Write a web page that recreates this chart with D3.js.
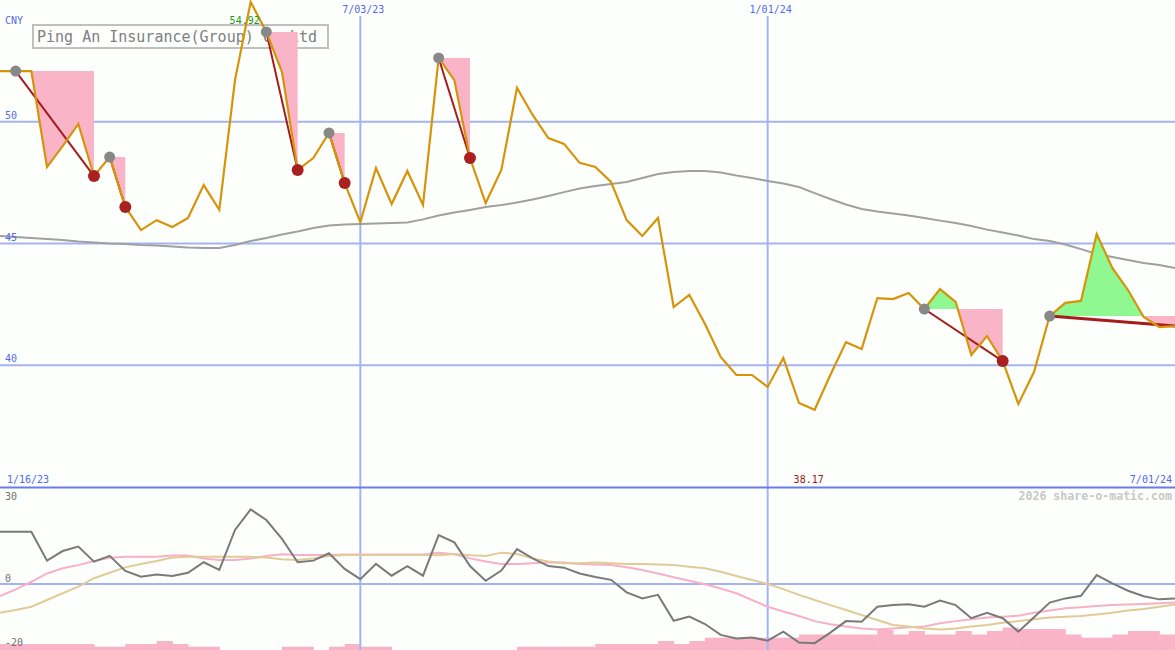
<!DOCTYPE html>
<html><head><meta charset="utf-8">
<script src="https://cdn.jsdelivr.net/npm/d3@7"></script>
<style>html,body{margin:0;padding:0;background:#fcfffc;}svg{display:block;}</style>
</head><body>
<svg id="chart" width="1175" height="650"></svg>
<script>
const title = "Ping An Insurance(Group) Co Ltd";
const currency = "CNY";
const watermark = "2026 share-o-matic.com";

const dates = ["1/16/23","1/30/23","2/06/23","2/13/23","2/20/23","2/27/23","3/06/23","3/13/23","3/20/23","3/27/23",
"4/03/23","4/10/23","4/17/23","4/24/23","5/01/23","5/08/23","5/15/23","5/22/23","5/29/23","6/05/23",
"6/12/23","6/19/23","6/26/23","7/03/23","7/10/23","7/17/23","7/24/23","7/31/23","8/07/23","8/14/23",
"8/21/23","8/28/23","9/04/23","9/11/23","9/18/23","9/25/23","10/02/23","10/09/23","10/16/23","10/23/23",
"10/30/23","11/06/23","11/13/23","11/20/23","11/27/23","12/04/23","12/11/23","12/18/23","12/25/23","1/01/24",
"1/08/24","1/15/24","1/22/24","1/29/24","2/05/24","2/12/24","2/19/24","2/26/24","3/04/24","3/11/24",
"3/18/24","3/25/24","4/01/24","4/08/24","4/15/24","4/22/24","4/29/24","5/06/24","5/13/24","5/20/24",
"5/27/24","6/03/24","6/10/24","6/17/24","6/24/24","7/01/24"];

const price = [52.08,52.08,52.08,48.14,49.00,49.91,47.77,48.55,46.50,45.55,
45.96,45.68,46.05,47.40,46.38,51.71,54.92,53.69,52.04,48.02,
48.51,49.54,47.48,45.88,48.10,46.62,47.98,46.58,52.62,51.71,
48.51,46.66,48.02,51.39,50.28,49.33,49.09,48.31,48.14,47.53,
45.96,45.31,46.05,42.39,42.89,41.69,40.34,39.60,39.60,39.11,
40.30,38.45,38.17,39.60,40.95,40.67,42.76,42.72,42.97,42.31,
43.13,42.60,40.42,41.20,40.17,38.41,39.72,42.02,42.56,42.64,
45.39,44.00,43.09,41.98,41.57,41.61];

const movingAvg = [45.31,45.27,45.23,45.18,45.14,45.08,45.04,45.00,44.98,44.94,
44.92,44.88,44.84,44.82,44.82,44.94,45.10,45.23,45.37,45.49,
45.64,45.74,45.78,45.80,45.82,45.84,45.86,45.99,46.15,46.27,
46.38,46.50,46.58,46.68,46.81,46.95,47.11,47.26,47.36,47.44,
47.53,47.69,47.85,47.94,47.98,47.98,47.92,47.79,47.69,47.57,
47.46,47.32,47.07,46.83,46.60,46.42,46.31,46.23,46.15,46.05,
45.94,45.84,45.72,45.57,45.45,45.33,45.18,45.10,44.96,44.77,
44.57,44.45,44.32,44.20,44.12,43.99];

const oscillator = [16.3,16.3,16.3,7.3,10.3,11.7,7.0,8.8,4.1,2.3,
3.0,2.5,3.5,6.8,4.4,16.9,23.3,20.0,14.1,6.8,
7.3,9.6,4.7,1.5,6.3,2.6,5.6,2.6,15.3,13.0,
5.6,1.0,4.2,10.9,8.0,5.6,5.1,3.3,2.2,1.3,
-2.6,-4.5,-3.4,-11.5,-10.2,-12.5,-15.9,-17.0,-16.7,-17.7,
-14.9,-18.3,-18.5,-15.2,-11.6,-11.8,-7.1,-6.6,-6.3,-7.1,
-5.2,-6.6,-10.7,-9.0,-10.7,-14.9,-10.4,-5.8,-4.5,-3.7,
2.8,0.2,-2.1,-3.8,-4.8,-4.5];

const pinkSignal = [-3.75,-1.7,0.7,3.3,4.9,5.9,7.2,8.2,8.5,8.5,
8.5,8.9,8.9,8.0,7.5,7.5,8.0,8.75,9.3,9.1,
9.1,9.1,9.2,9.2,9.2,9.2,9.2,9.2,9.8,9.3,
8.0,7.0,6.25,6.25,6.5,6.7,6.7,6.25,6.1,5.9,
5.2,4.4,3.3,2.1,1.0,-0.1,-1.4,-2.9,-5.0,-7.1,
-8.6,-10.0,-11.6,-12.6,-13.3,-13.9,-14.2,-13.9,-13.5,-13.3,
-12.3,-11.6,-11.0,-10.5,-10.2,-9.9,-9.0,-8.3,-7.6,-7.3,
-6.9,-6.6,-6.4,-6.25,-6.0,-5.8];

const tanSignal = [-9.0,-8.1,-7.1,-5.0,-2.9,-0.8,1.8,3.5,5.2,6.25,
7.2,8.3,8.5,8.5,8.5,8.5,8.5,8.3,7.7,7.5,
8.0,8.75,9.06,9.06,9.06,9.06,9.06,9.06,9.0,9.4,
9.0,8.75,9.8,9.4,8.0,7.0,6.5,6.5,6.7,6.5,
6.25,6.25,6.1,5.9,5.4,4.9,3.85,2.5,1.25,0,
-1.6,-3.4,-5.0,-6.6,-8.1,-9.7,-11.25,-12.8,-13.3,-13.9,
-14.2,-13.9,-13.3,-12.8,-12.1,-11.6,-11.0,-10.5,-10.2,-10.0,
-9.5,-9.0,-8.3,-7.8,-7.1,-6.4];

const volume = [6,6,6,6,6,6,3.3,3.3,6,6,
9,6,3.3,3.3,0,0,0,0,3.3,3.3,
0,3.3,6,3.3,3.3,0,0,0,0,0,
0,0,0,3.3,3.3,3.3,3.3,3.3,6,6,
6,6,9,6,9,12.3,12.3,12.3,12.3,12.3,
12.3,15.5,15.5,15.5,15.5,15.5,20,15.5,19,15.5,
15.5,19,15.5,19,22.5,21,21,21,15.5,12.3,
12.3,15.5,19,19,15.5,15.5];

const signalStarts = ["1/30/23","3/13/23","5/22/23","6/19/23","8/07/23","3/11/24","5/06/24"];
const signalEnds   = ["3/06/23","3/20/23","6/05/23","6/26/23","8/21/23","4/15/24",null];

const priceTicks = [50,45,40];
const lowerTicks = [30,0,-20];
const lowerGrid = [0];
const dateTicks = ["7/03/23","1/01/24"];

const W = 1175, H = 650;
const svg = d3.select("#chart");
const mono = "'DejaVu Sans Mono', 'Liberation Mono', monospace";

const x = d3.scalePoint().domain(dates).range([0, W]);
const step = x.step();
const yMain = d3.scaleLinear().domain([35, 55]).range([487, 0]);
const yLow = d3.scaleLinear().domain([-20, 30]).range([648, 488]);
const yVol = d3.scaleLinear().domain([0, 25]).range([650, 625]);

svg.append("rect").attr("width", W).attr("height", H).attr("fill", "#fcfffc");

// volume bars
svg.append("g").selectAll("rect").data(dates).join("rect")
  .attr("x", d => x(d)).attr("width", step + 0.5)
  .attr("y", (d, i) => yVol(volume[i]))
  .attr("height", (d, i) => 650 - yVol(volume[i]))
  .attr("fill", "#fab4c8");

// grid
const gridColor = "#a4b4f2";
svg.append("g").selectAll("line").data(priceTicks).join("line")
  .attr("x1", 0).attr("x2", W).attr("y1", d => yMain(d)).attr("y2", d => yMain(d))
  .attr("stroke", gridColor).attr("stroke-width", 2);
svg.append("g").selectAll("line").data(lowerGrid).join("line")
  .attr("x1", 0).attr("x2", W).attr("y1", d => yLow(d)).attr("y2", d => yLow(d))
  .attr("stroke", gridColor).attr("stroke-width", 2);
svg.append("g").selectAll("line").data(dateTicks).join("line")
  .attr("x1", d => x(d)).attr("x2", d => x(d)).attr("y1", 16).attr("y2", H)
  .attr("stroke", gridColor).attr("stroke-width", 2);
svg.append("line").attr("x1", 0).attr("x2", W).attr("y1", 487.5).attr("y2", 487.5)
  .attr("stroke", "#6a7ce6").attr("stroke-width", 2);

// title box
svg.append("rect").attr("x", 33).attr("y", 25).attr("width", 295).attr("height", 23)
  .attr("fill", "none").attr("stroke", "#c0c0c0").attr("stroke-width", 2);
svg.append("text").attr("x", 37).attr("y", 42).text(title)
  .attr("font-family", mono).attr("font-size", 15).attr("fill", "#808080");

// moving average
svg.append("path").datum(movingAvg)
  .attr("d", d3.line().x((d, i) => x(dates[i])).y(d => yMain(d)))
  .attr("fill", "none").attr("stroke", "#a0a0a0").attr("stroke-width", 2);

// signal fills
const defs = svg.append("defs");
const signals = signalStarts.map((s, k) => {
  const si = dates.indexOf(s);
  const ei = signalEnds[k] ? dates.indexOf(signalEnds[k]) : dates.length - 1;
  return {si, ei, open: !signalEnds[k], level: price[si]};
});
signals.forEach((sg, k) => {
  const ly = yMain(sg.level);
  defs.append("clipPath").attr("id", "up" + k).append("rect")
    .attr("x", 0).attr("y", 0).attr("width", W).attr("height", ly);
  defs.append("clipPath").attr("id", "dn" + k).append("rect")
    .attr("x", 0).attr("y", ly).attr("width", W).attr("height", H - ly);
  const idx = d3.range(sg.si, sg.ei + 1);
  const area = d3.area().x(i => x(dates[i])).y0(ly).y1(i => yMain(price[i]));
  svg.append("path").datum(idx).attr("d", area).attr("fill", "#90f890").attr("clip-path", `url(#up${k})`);
  svg.append("path").datum(idx).attr("d", area).attr("fill", "#fab4c8").attr("clip-path", `url(#dn${k})`);
});
// trend lines
signals.forEach(sg => {
  svg.append("line")
    .attr("x1", x(dates[sg.si])).attr("y1", yMain(price[sg.si]))
    .attr("x2", x(dates[sg.ei])).attr("y2", yMain(price[sg.ei]))
    .attr("stroke", "#a41c1c").attr("stroke-width", sg.open ? 3 : 2);
});

// price line
svg.append("path").datum(price)
  .attr("d", d3.line().x((d, i) => x(dates[i])).y(d => yMain(d)))
  .attr("fill", "none").attr("stroke", "#d6940a").attr("stroke-width", 2.2)
  .attr("stroke-linejoin", "miter");

// dots
signals.forEach(sg => {
  svg.append("circle").attr("cx", x(dates[sg.si])).attr("cy", yMain(price[sg.si]))
    .attr("r", 5.5).attr("fill", "#888888");
  if (!sg.open) svg.append("circle").attr("cx", x(dates[sg.ei])).attr("cy", yMain(price[sg.ei]))
    .attr("r", 6).attr("fill", "#a82020");
});

// lower panel lines
const lowLine = d3.line().x((d, i) => x(dates[i])).y(d => yLow(d));
svg.append("path").datum(pinkSignal).attr("d", lowLine)
  .attr("fill", "none").attr("stroke", "#f8b0c8").attr("stroke-width", 2);
svg.append("path").datum(tanSignal).attr("d", lowLine)
  .attr("fill", "none").attr("stroke", "#e2ca98").attr("stroke-width", 2);
svg.append("path").datum(oscillator).attr("d", lowLine)
  .attr("fill", "none").attr("stroke", "#7a7a7a").attr("stroke-width", 2);

// labels
const blue = "#5468ee";
svg.append("text").attr("x", 5).attr("y", 24).text(currency)
  .attr("font-family", mono).attr("font-size", 10).attr("fill", blue);
svg.append("g").selectAll("text").data(priceTicks).join("text")
  .attr("x", 5).attr("y", d => yMain(d) - 3).text(d => d)
  .attr("font-family", mono).attr("font-size", 10).attr("fill", blue);
svg.append("g").selectAll("text").data(dateTicks).join("text")
  .attr("x", d => x(d) + 3).attr("y", 13).attr("text-anchor", "middle").text(d => d)
  .attr("font-family", mono).attr("font-size", 10).attr("fill", blue);
svg.append("text").attr("x", 7).attr("y", 483).text(dates[0])
  .attr("font-family", mono).attr("font-size", 10).attr("fill", blue);
svg.append("text").attr("x", 1172).attr("y", 483).attr("text-anchor", "end").text(dates[dates.length - 1])
  .attr("font-family", mono).attr("font-size", 10).attr("fill", blue);
svg.append("g").selectAll("text").data(lowerTicks).join("text")
  .attr("x", 5).attr("y", d => Math.max(yLow(d) - 2, 500)).text(d => d)
  .attr("font-family", mono).attr("font-size", 10).attr("fill", "#707070");

const maxI = d3.maxIndex(price), minI = d3.minIndex(price);
svg.append("text").attr("x", x(dates[maxI]) - 6).attr("y", 24).attr("text-anchor", "middle")
  .text(price[maxI].toFixed(2)).attr("font-family", mono).attr("font-size", 10).attr("fill", "#1a9a1a");
svg.append("text").attr("x", x(dates[minI]) - 6).attr("y", 483).attr("text-anchor", "middle")
  .text(price[minI].toFixed(2)).attr("font-family", mono).attr("font-size", 10).attr("fill", "#a01818");

svg.append("text").attr("x", 1172).attr("y", 500).attr("text-anchor", "end").text(watermark)
  .attr("font-family", mono).attr("font-size", 11.6).attr("font-weight", "bold").attr("fill", "#c8c8c8");
</script>
</body></html>
